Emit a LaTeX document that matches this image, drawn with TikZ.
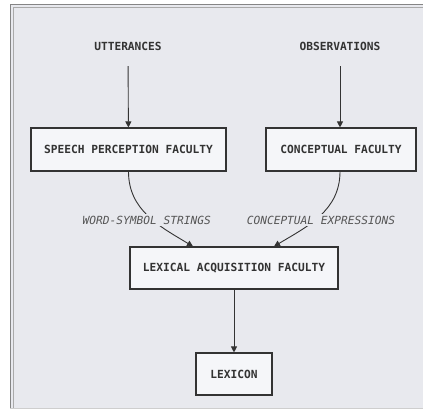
\documentclass[tikz,border=0pt]{standalone}
\usepackage{fontspec}
\setmonofont{DejaVu Sans Mono}
\usepackage{tikz}
\usetikzlibrary{arrows.meta,positioning,calc}
\definecolor{panelbg}{HTML}{E8E9EE}
\definecolor{boxbg}{HTML}{F5F6F9}
\definecolor{inkdark}{HTML}{333333}
\definecolor{labelgray}{HTML}{555555}
\definecolor{framegray}{HTML}{858585}

\begin{document}
\begin{tikzpicture}[x=1pt,y=1pt,
    box/.style={draw=inkdark, line width=1.1pt, fill=boxbg, minimum height=43pt,
        font=\ttfamily\bfseries\fontsize{11.2}{13}\selectfont, text=inkdark, inner sep=0pt},
    term/.style={minimum height=40pt, font=\ttfamily\bfseries\fontsize{11.2}{13}\selectfont, text=inkdark},
    flow/.style={draw=inkdark, line width=0.9pt, -{Triangle[width=6pt,length=6pt]}},
    edgelabel/.style={fill=panelbg, inner sep=2pt, font=\ttfamily\itshape\fontsize{11.2}{13}\selectfont, text=labelgray}]
    \useasboundingbox (0,0) rectangle (423,410);

    % Panel with frame
    \fill[panelbg] (10,2) rectangle (423,405);
    \draw[framegray, line width=0.8pt] (10.5,2) -- (10.5,405.5) -- (423,405.5);
    \draw[framegray!70, line width=0.6pt] (13.5,2) -- (13.5,403) -- (423,403);
    \draw[framegray!40, line width=0.6pt] (10,2) -- (423,2);

    % Inputs
    \node[term] (utt) at (128,364) {UTTERANCES};
    \node[term] (obs) at (340,364) {OBSERVATIONS};

    % Faculties
    \node[box, minimum width=195pt] (speech) at (128.5,260.5) {SPEECH PERCEPTION FACULTY};
    \node[box, minimum width=150pt] (concept) at (341,260.5) {CONCEPTUAL FACULTY};
    \node[box, minimum width=208pt, minimum height=42pt] (lexacq) at (234,142) {LEXICAL ACQUISITION FACULTY};
    \node[box, minimum width=76pt, minimum height=42pt] (lexicon) at (234,36) {LEXICON};

    % Connectors
    \draw[flow] (utt) -- (speech);
    \draw[flow] (obs) -- (concept.north -| obs);
    \draw[flow] (speech.south) to[out=-90, in=149]
        node[edgelabel, pos=0.56, xshift=-6pt] {WORD-SYMBOL STRINGS} ([xshift=-41pt]lexacq.north);
    \draw[flow] (concept.south -| obs) to[out=-90, in=31]
        node[edgelabel, pos=0.56, xshift=6pt] {CONCEPTUAL EXPRESSIONS} ([xshift=40pt]lexacq.north);
    \draw[flow] (lexacq) -- (lexicon);
\end{tikzpicture}
\end{document}
